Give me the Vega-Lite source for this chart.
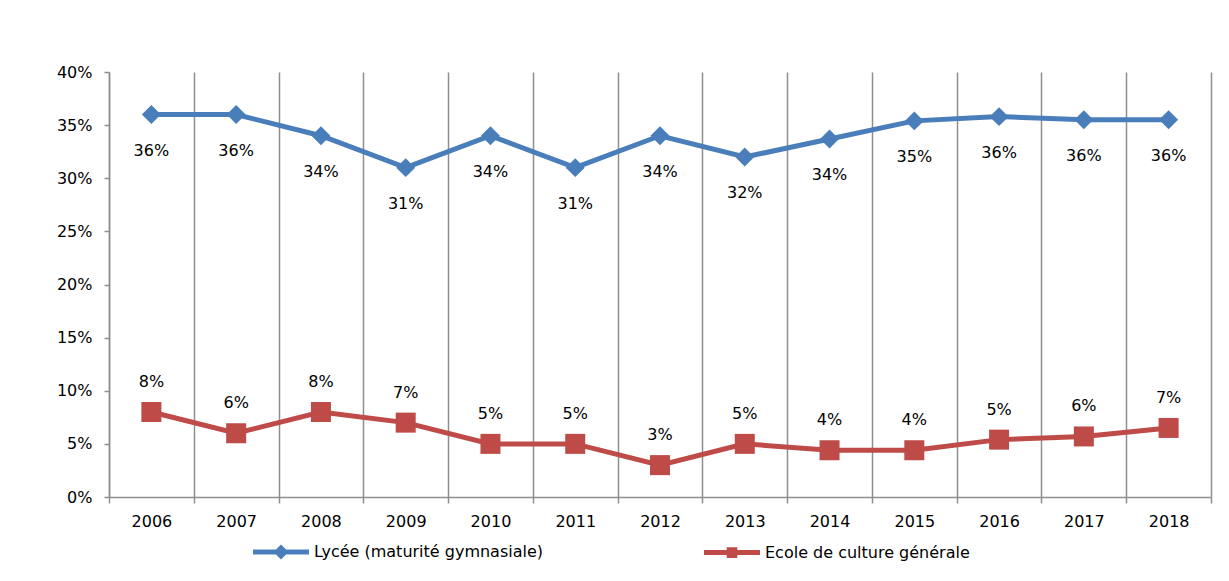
{
  "$schema": "https://vega.github.io/schema/vega-lite/v6.json",
  "autosize": "none",
  "width": 1102,
  "height": 425,
  "padding": {"left": 109, "top": 72, "right": 18, "bottom": 84},
  "background": "white",
  "config": {
    "font": "DejaVu Sans",
    "view": {"stroke": null},
    "axis": {"labelFont": "DejaVu Sans", "labelFontSize": 16, "labelColor": "#000000", "domainColor": "#8E8E8E", "domainWidth": 1.5, "tickColor": "#8E8E8E", "tickWidth": 1.5, "gridColor": "#8E8E8E", "gridWidth": 1.5, "gridOpacity": 1}
  },
  "data": {"values": [
    {"year": 2006, "series": "Lycée (maturité gymnasiale)", "value": 0.360, "label": "36%"},
    {"year": 2007, "series": "Lycée (maturité gymnasiale)", "value": 0.360, "label": "36%"},
    {"year": 2008, "series": "Lycée (maturité gymnasiale)", "value": 0.340, "label": "34%"},
    {"year": 2009, "series": "Lycée (maturité gymnasiale)", "value": 0.310, "label": "31%"},
    {"year": 2010, "series": "Lycée (maturité gymnasiale)", "value": 0.340, "label": "34%"},
    {"year": 2011, "series": "Lycée (maturité gymnasiale)", "value": 0.310, "label": "31%"},
    {"year": 2012, "series": "Lycée (maturité gymnasiale)", "value": 0.340, "label": "34%"},
    {"year": 2013, "series": "Lycée (maturité gymnasiale)", "value": 0.320, "label": "32%"},
    {"year": 2014, "series": "Lycée (maturité gymnasiale)", "value": 0.337, "label": "34%"},
    {"year": 2015, "series": "Lycée (maturité gymnasiale)", "value": 0.354, "label": "35%"},
    {"year": 2016, "series": "Lycée (maturité gymnasiale)", "value": 0.358, "label": "36%"},
    {"year": 2017, "series": "Lycée (maturité gymnasiale)", "value": 0.355, "label": "36%"},
    {"year": 2018, "series": "Lycée (maturité gymnasiale)", "value": 0.355, "label": "36%"},
    {"year": 2006, "series": "Ecole de culture générale", "value": 0.080, "label": "8%"},
    {"year": 2007, "series": "Ecole de culture générale", "value": 0.060, "label": "6%"},
    {"year": 2008, "series": "Ecole de culture générale", "value": 0.080, "label": "8%"},
    {"year": 2009, "series": "Ecole de culture générale", "value": 0.070, "label": "7%"},
    {"year": 2010, "series": "Ecole de culture générale", "value": 0.050, "label": "5%"},
    {"year": 2011, "series": "Ecole de culture générale", "value": 0.050, "label": "5%"},
    {"year": 2012, "series": "Ecole de culture générale", "value": 0.030, "label": "3%"},
    {"year": 2013, "series": "Ecole de culture générale", "value": 0.050, "label": "5%"},
    {"year": 2014, "series": "Ecole de culture générale", "value": 0.044, "label": "4%"},
    {"year": 2015, "series": "Ecole de culture générale", "value": 0.044, "label": "4%"},
    {"year": 2016, "series": "Ecole de culture générale", "value": 0.054, "label": "5%"},
    {"year": 2017, "series": "Ecole de culture générale", "value": 0.057, "label": "6%"},
    {"year": 2018, "series": "Ecole de culture générale", "value": 0.065, "label": "7%"}
  ]},
  "encoding": {
    "x": {
      "field": "year", "type": "quantitative",
      "scale": {"domain": [2005.5, 2018.5], "nice": false, "zero": false},
      "axis": {
        "title": null,
        "values": [2005.5, 2006.5, 2007.5, 2008.5, 2009.5, 2010.5, 2011.5, 2012.5, 2013.5, 2014.5, 2015.5, 2016.5, 2017.5, 2018.5],
        "labelExpr": "datum.value > 2018 ? '' : format(datum.value + 0.5, 'd')",
        "labelOffset": 42.4,
        "labelAlign": "center",
        "labelPadding": 10,
        "tickSize": 6,
        "grid": true
      }
    },
    "y": {
      "field": "value", "type": "quantitative",
      "scale": {"domain": [0, 0.4], "nice": false},
      "axis": {
        "title": null,
        "values": [0, 0.05, 0.1, 0.15, 0.2, 0.25, 0.3, 0.35, 0.4],
        "format": ".0%",
        "grid": false,
        "tickSize": 5,
        "labelPadding": 12
      }
    },
    "color": {
      "field": "series", "type": "nominal",
      "scale": {"domain": ["Lycée (maturité gymnasiale)", "Ecole de culture générale"], "range": ["#4A7EBB", "#BE4B48"]},
      "legend": {
        "title": null,
        "orient": "none",
        "legendX": 164,
        "legendY": 472,
        "direction": "horizontal",
        "columns": 2,
        "columnPadding": 150,
        "symbolSize": 64,
        "symbolOpacity": 1,
        "symbolStrokeWidth": 5,
        "labelOffset": 25,
        "labelLimit": 0,
        "labelFont": "DejaVu Sans",
        "labelFontSize": 16,
        "labelColor": "#000000",
        "encode": {
          "symbols": {
            "update": {
              "shape": {"signal": "datum.value === 'Ecole de culture générale' ? 'M-7,0H7M-0.7,-0.7H0.7V0.7H-0.7Z' : 'M-7,0H7M-1,0L0,-1L1,0L0,1Z'"},
              "fill": {"signal": "scale('color', datum.value)"},
              "stroke": {"signal": "scale('color', datum.value)"},
              "strokeWidth": {"value": 5},
              "opacity": {"value": 1}
            }
          }
        }
      }
    }
  },
  "layer": [
    {"mark": {"type": "line", "strokeWidth": 5}},
    {
      "transform": [{"filter": "datum.series === 'Lycée (maturité gymnasiale)'"}],
      "mark": {"type": "point", "filled": true, "opacity": 1, "shape": "diamond", "size": 360}
    },
    {
      "transform": [{"filter": "datum.series === 'Ecole de culture générale'"}],
      "mark": {"type": "point", "filled": true, "opacity": 1, "shape": "square", "size": 400}
    },
    {
      "transform": [{"filter": "datum.series === 'Lycée (maturité gymnasiale)'"}],
      "mark": {"type": "text", "dy": 36, "baseline": "middle", "fontSize": 16, "font": "DejaVu Sans", "color": "#000000"},
      "encoding": {"text": {"field": "label"}, "color": {"value": "#000000"}}
    },
    {
      "transform": [{"filter": "datum.series === 'Ecole de culture générale'"}],
      "mark": {"type": "text", "dy": -30, "baseline": "middle", "fontSize": 16, "font": "DejaVu Sans", "color": "#000000"},
      "encoding": {"text": {"field": "label"}, "color": {"value": "#000000"}}
    }
  ]
}
